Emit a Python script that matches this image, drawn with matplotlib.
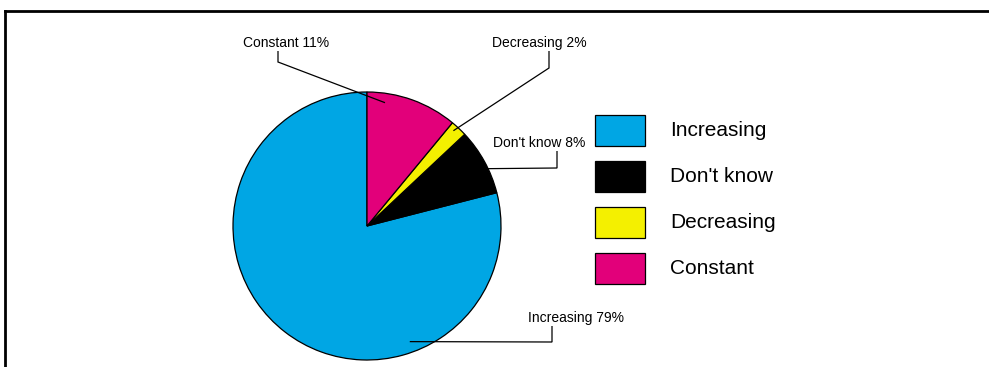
import matplotlib
matplotlib.use('Agg')
import numpy as np
import matplotlib.pyplot as plt
from matplotlib.patches import Rectangle
from matplotlib.lines import Line2D

# Datos del gráfico
categorias = ['Increasing', "Don't know", 'Decreasing', 'Constant']
porcentajes = [79, 8, 2, 11]
colores = ['#00A6E4', '#000000', '#F4F000', '#E2007A']

plt.rcParams['font.family'] = ['Liberation Sans', 'DejaVu Sans']

W, H = 989, 367
fig = plt.figure(figsize=(W / 100, H / 100), dpi=100)
ax = fig.add_axes([0, 0, 1, 1])

# Pie en coordenadas de pixel (y hacia arriba)
cx, cy, R = 367, H - 226, 134
wedges, _ = ax.pie(porcentajes, colors=colores, startangle=90, counterclock=True,
                   center=(cx, cy), radius=R, frame=True,
                   wedgeprops=dict(edgecolor='black', linewidth=0.9))
ax.set_xlim(0, W)
ax.set_ylim(0, H)
ax.set_aspect('equal')
ax.axis('off')


def punto(ang, frac):
    a = np.deg2rad(ang)
    return cx + frac * R * np.cos(a), cy + frac * R * np.sin(a)


# Etiquetas con líneas guía: (ángulo punta, fracción radio, codo, posición texto)
guias = {
    'Constant': (81.7, 0.93, (278, 62), (286, 43)),
    'Decreasing': (47.8, 0.96, (549, 68), (539, 43)),
    "Don't know": (29.0, 0.88, (557, 168), (539, 143)),
    'Increasing': (-69.7, 0.92, (552, 342), (576, 318)),
}
for cat, pct in zip(categorias, porcentajes):
    ang, frac, codo, txt = guias[cat]
    x0, y0 = punto(ang, frac)
    xs = [x0, codo[0], codo[0]]
    ys = [y0, H - codo[1], H - txt[1] - 8]
    ax.plot(xs, ys, color='black', lw=0.9, solid_capstyle='butt', solid_joinstyle='miter')
    ax.text(txt[0], H - txt[1], f'{cat} {pct}%', ha='center', va='center', fontsize=10)

# Leyenda manual
for i, (cat, c) in enumerate(zip(categorias, colores)):
    top = 115 + 46 * i
    ax.add_patch(Rectangle((595, H - top - 31), 50, 31, facecolor=c,
                           edgecolor='black', linewidth=0.9))
    ax.text(670, H - top - 15.5, cat, ha='left', va='center', fontsize=15)

# Marco (cortado)
fig.add_artist(Line2D([5 / W, 1], [1 - 11 / H, 1 - 11 / H], transform=fig.transFigure,
                      color='black', lw=2))
fig.add_artist(Line2D([5 / W, 5 / W], [0, 1 - 11 / H], transform=fig.transFigure,
                      color='black', lw=2))

fig.savefig('out.png', dpi=100)
